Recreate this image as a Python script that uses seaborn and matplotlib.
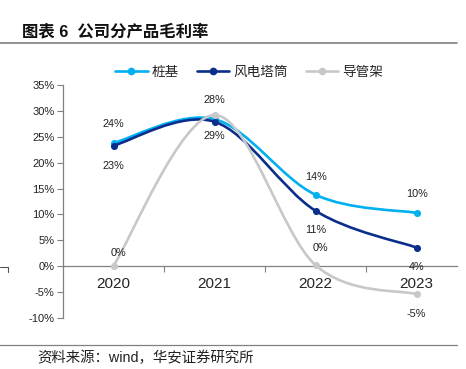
import matplotlib
matplotlib.use('Agg')
import matplotlib.pyplot as plt
import seaborn as sns
import pandas as pd
import numpy as np
from matplotlib.path import Path
from matplotlib.patches import PathPatch
from matplotlib.lines import Line2D

# data (gross margin, %)
years = ['2020', '2021', '2022', '2023']
series_names = ['桩基', '风电塔筒', '导管架']
pile = [23.8, 28.4, 13.8, 10.3]
tower = [23.3, 27.9, 10.7, 3.6]
jacket = [0.1, 29.2, 0.2, -5.4]
yticks = list(range(-10, 40, 5))

colors = ['#00B0F0', '#0B2E8C', '#C8C8C8']
# label offsets in pixels (None = no label)
offsets = [
    [(0, 19), (0, 19), (0, 18), (0, 19)],
    [(0, -20), None, (0, -19), (0, -19)],
    [(5, 13), (0, -21), (5, 17), (0, -20)],
]

sns.set_theme(style='white')
plt.rcParams['font.family'] = ['Liberation Sans', 'Noto Sans CJK SC', 'DejaVu Sans']

df = pd.DataFrame({
    'x': list(range(len(years))) * 3,
    'value': pile + tower + jacket,
    'series': sum([[n] * len(years) for n in series_names], []),
})

fig = plt.figure(figsize=(4.66, 3.69), dpi=100)
ax = fig.add_axes([63 / 466, 1 - 318 / 369, 394 / 466, 233 / 369])


def smooth_path(xs, ys):
    # Excel-like smoothed line: cubic bezier segments (Catmull-Rom)
    pts = np.column_stack([xs, ys]).astype(float)
    n = len(pts)
    verts = [pts[0]]
    codes = [Path.MOVETO]
    for i in range(n - 1):
        p_prev = pts[i - 1] if i > 0 else pts[i]
        p_next2 = pts[i + 2] if i + 2 < n else pts[i + 1]
        c1 = pts[i] + (pts[i + 1] - p_prev) / 6
        c2 = pts[i + 1] - (p_next2 - pts[i]) / 6
        verts += [c1, c2, pts[i + 1]]
        codes += [Path.CURVE4] * 3
    return Path(verts, codes)


for k, name in enumerate(series_names):
    sub = df[df['series'] == name]
    ax.add_patch(PathPatch(smooth_path(sub['x'], sub['value']), fill=False,
                           edgecolor=colors[k], lw=1.9, zorder=2 + k,
                           capstyle='round'))
    sns.scatterplot(data=sub, x='x', y='value', color=colors[k], s=26,
                    edgecolor=colors[k], linewidth=0, ax=ax, zorder=2.5 + k,
                    legend=False)
    for j, (xv, yv) in enumerate(zip(sub['x'], sub['value'])):
        off = offsets[k][j]
        if off is None:
            continue
        ax.annotate(f'{round(yv):.0f}%', (xv, yv), xytext=off,
                    textcoords='offset pixels', ha='center', va='center',
                    fontsize=7.8, color='#222222', zorder=10)

ax.set_xlim(-0.5, 3.4)
ax.set_ylim(-10, 35)
ax.set_yticks(yticks)
ax.set_yticklabels([f'{v}%' for v in yticks], fontsize=8, color='#222222')
ax.set_xticks(range(len(years)))
ax.set_xticklabels(years, fontsize=8.6, color='#222222')
ax.set_xticks([0.5, 1.5, 2.5], minor=True)
ax.tick_params(axis='x', which='major', length=0, pad=8)
ax.tick_params(axis='x', which='minor', length=4, width=0.8, color='#808080',
               direction='out', bottom=True)
ax.tick_params(axis='y', length=4, width=0.8, color='#808080', left=True,
               direction='out', pad=2)
ax.set_xlabel('')
ax.set_ylabel('')

for s in ['top', 'right']:
    ax.spines[s].set_visible(False)
ax.spines['bottom'].set_position(('data', 0))
ax.spines['bottom'].set_color('#808080')
ax.spines['left'].set_color('#808080')
ax.spines['bottom'].set_linewidth(0.9)
ax.spines['left'].set_linewidth(0.9)

# legend
handles = [Line2D([0], [0], color=c, lw=1.9, marker='o', markersize=4.5)
           for c in colors]
fig.legend(handles, series_names, loc='center', bbox_to_anchor=(249 / 466, 1 - 72 / 369),
           ncol=3, frameon=False, handlelength=2.4, columnspacing=1.3,
           handletextpad=0.3, prop={'family': ['Noto Sans CJK SC'], 'size': 9.8})

# title, rules and source
fig.text(22 / 466, 1 - 32 / 369, '图表 6  公司分产品毛利率', fontsize=11.8,
         fontweight='bold', family=['Liberation Sans', 'Noto Sans CJK SC'],
         va='center', ha='left', color='#111111')
fig.add_artist(Line2D([0, 457 / 466], [1 - 43 / 369] * 2, color='#808080', lw=1.2))
fig.add_artist(Line2D([0, 457 / 466], [1 - 345 / 369] * 2, color='#808080', lw=0.9))
fig.add_artist(Line2D([0, 8 / 466, 8 / 466], [1 - 267 / 369, 1 - 267 / 369, 1 - 272 / 369],
                      color='#555555', lw=0.8))
fig.text(37 / 466, 1 - 358 / 369, '资料来源：wind，华安证券研究所', fontsize=10.4,
         family=['Liberation Sans', 'Noto Sans CJK SC'], va='center', ha='left',
         color='#222222')

fig.savefig('out.png', dpi=100)
